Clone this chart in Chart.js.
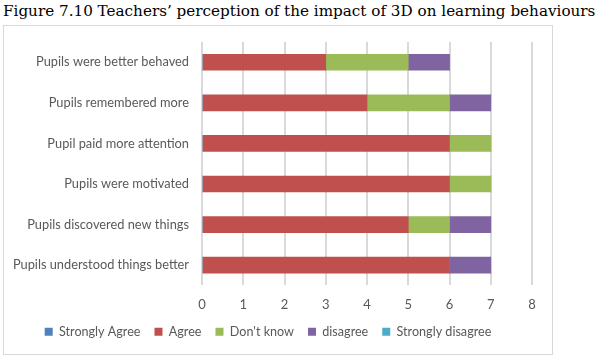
<!DOCTYPE html>
<html>
<head>
<meta charset="utf-8">
<script src="https://cdn.jsdelivr.net/npm/chart.js@4"></script>
<style>
  body { margin: 0; background: #fff; }
  #title { position: absolute; left: 3px; top: 2px; font-family: "DejaVu Serif", serif; font-size: 15.2px; color: #000; white-space: nowrap; }
  #box { position: absolute; left: 3px; top: 25px; width: 548px; height: 328px; border: 1px solid #d9d9d9; }
  #myChart { display: block; }
</style>
</head>
<body>
<div id="title">Figure 7.10 Teachers’ perception of the impact of 3D on learning behaviours</div>
<div id="box"><canvas id="myChart" width="548" height="322"></canvas></div>
<script>
const categories = [
  'Pupils were better behaved',
  'Pupils remembered more',
  'Pupil paid more attention',
  'Pupils were motivated',
  'Pupils discovered new things',
  'Pupils understood things better',
];
const stronglyAgree = [0, 0, 0, 0, 0, 0];
const agree = [3, 4, 6, 6, 5, 6];
const dontKnow = [2, 2, 1, 1, 1, 0];
const disagree = [1, 1, 0, 0, 1, 1];
const stronglyDisagree = [0, 0, 0, 0, 0, 0];
const xTicks = [0, 1, 2, 3, 4, 5, 6, 7, 8];

const font = { family: 'Lato, sans-serif', size: 13 };
const ds = (label, data, color) => ({ label, data, backgroundColor: color, borderWidth: 0, barThickness: 16 });

const ctx = document.getElementById('myChart');
new Chart(ctx, {
  type: 'bar',
  data: {
    labels: categories,
    datasets: [
      ds('Strongly Agree', stronglyAgree, '#4F81BD'),
      ds('Agree', agree, '#C0504D'),
      ds("Don't know", dontKnow, '#9BBB59'),
      ds('disagree', disagree, '#8064A2'),
      ds('Strongly disagree', stronglyDisagree, '#4BACC6'),
    ],
  },
  options: {
    responsive: false,
    animation: false,
    indexAxis: 'y',
    layout: { padding: { top: 16, right: 20, bottom: 0 } },
    plugins: {
      tooltip: { enabled: false },
      legend: {
        position: 'bottom',
        labels: { font: { family: 'Lato, sans-serif', size: 12.6 }, color: '#595959', boxWidth: 8, boxHeight: 8, padding: 14 },
      },
    },
    scales: {
      x: {
        stacked: true,
        min: 0,
        max: 8,
        afterBuildTicks: (axis) => { axis.ticks = xTicks.map((v) => ({ value: v })); },
        grid: { color: '#d9d9d9', lineWidth: 2, drawTicks: false },
        border: { display: false },
        ticks: { font, color: '#595959', padding: 12 },
        afterFit: (axis) => { axis.height = 26; },
      },
      y: {
        stacked: true,
        grid: { display: false },
        border: { display: false },
        ticks: { font: { family: 'Lato, sans-serif', size: 12.8 }, color: '#595959', padding: 5 },
        afterFit: (axis) => { axis.width = 198; },
      },
    },
  },
});
</script>
</body>
</html>
